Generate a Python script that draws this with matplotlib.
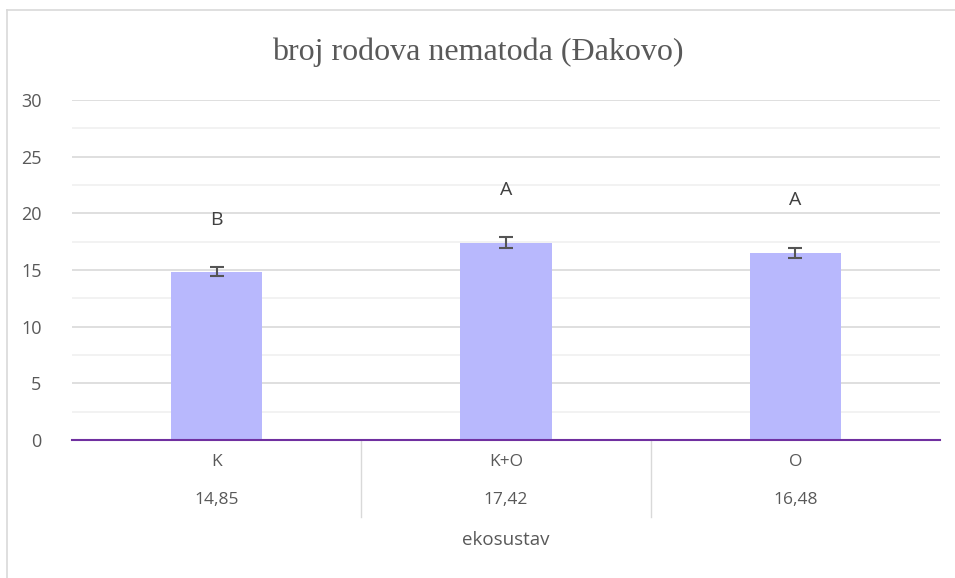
import matplotlib.pyplot as plt
from matplotlib.lines import Line2D
import matplotlib.transforms as mtransforms

categories = ["K", "K+O", "O"]
values = [14.85, 17.42, 16.48]
value_labels = ["14,85", "17,42", "16,48"]
errors = [0.4, 0.5, 0.45]
letters = ["B", "A", "A"]
letter_pos = [19.4, 22.1, 21.2]

txt = "#595959"
fig = plt.figure(figsize=(9.55, 5.78), dpi=100)
# chart frame (only top and left edges visible in the crop)
bx, by = 7 / 955, 1 - 10 / 578
fig.lines.append(Line2D([bx, 1], [by, by], transform=fig.transFigure, color="#d9d9d9", linewidth=1.2))
fig.lines.append(Line2D([bx, bx], [0, by], transform=fig.transFigure, color="#d9d9d9", linewidth=1.2))
ax = fig.add_axes([0.0754, 0.2388, 0.909, 0.588])

x = range(len(categories))
ax.bar(x, values, width=0.315, color="#b8b8fd", zorder=2)
ax.errorbar(x, values, yerr=errors, fmt="none", ecolor="#555555", elinewidth=1.5,
            capsize=5, capthick=1.5, zorder=3)
for i, (l, p) in enumerate(zip(letters, letter_pos)):
    ax.text(i, p, l, ha="center", va="center", fontsize=14, color="#404040", family="Open Sans")

ax.set_xlim(-0.5, 2.5)
ax.set_ylim(0, 30)
ax.set_yticks(range(0, 31, 5))
ax.set_yticks([2.5, 7.5, 12.5, 17.5, 22.5, 27.5], minor=True)
ax.grid(True, which="major", axis="y", color="#d9d9d9", linewidth=1.2, zorder=0)
ax.grid(True, which="minor", axis="y", color="#f0f0f0", linewidth=1.2, zorder=0)
ax.tick_params(axis="y", which="both", length=0, pad=22, labelsize=13, labelcolor=txt)
ax.tick_params(axis="x", length=0, labelbottom=False)
for lab in ax.get_yticklabels():
    lab.set_family("Open Sans")
for s in ["top", "right", "left"]:
    ax.spines[s].set_visible(False)
ax.spines["bottom"].set_color("#7030a0")
ax.spines["bottom"].set_linewidth(1.5)
ax.spines["bottom"].set_zorder(4)

trans = mtransforms.blended_transform_factory(ax.transData, fig.transFigure)
for i, (c, v) in enumerate(zip(categories, value_labels)):
    ax.text(i, 1 - 462 / 578, c, transform=trans, ha="center", va="center",
            fontsize=12.5, color=txt, family="Open Sans")
    ax.text(i, 1 - 500 / 578, v, transform=trans, ha="center", va="center",
            fontsize=12.5, color=txt, family="Open Sans")
for b in [0.5, 1.5]:
    ax.plot([b, b], [1 - 440 / 578, 1 - 517 / 578], transform=trans, color="#d9d9d9",
            linewidth=1, clip_on=False)
fig.text(0.0754 + 0.909 / 2, 1 - 540 / 578, "ekosustav", ha="center", va="center",
         fontsize=13.5, color=txt, family="Open Sans")
fig.text(0.5, 1 - 52 / 578, "broj rodova nematoda (Đakovo)", ha="center", va="center",
         fontsize=23, color=txt, family="Liberation Serif")

fig.savefig("out.png", dpi=100)
